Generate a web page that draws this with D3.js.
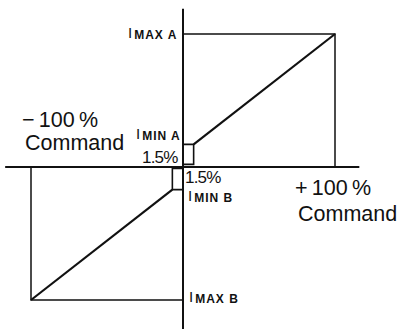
<!DOCTYPE html>
<html lang="en">

<head>
    <meta charset="UTF-8">
    <title>Command vs Current</title>
    <script src="https://d3js.org/d3.v7.min.js"></script>
    <style>
        body {
            margin: 0;
            background: #fff;
        }

        .big {
            font-family: "Liberation Sans", Arial, sans-serif;
            font-size: 21.5px;
            fill: #111;
        }

        .pct {
            font-family: "Liberation Sans", Arial, sans-serif;
            font-size: 17px;
            letter-spacing: -0.8px;
            fill: #111;
        }

        .sym {
            font-family: "Liberation Sans", Arial, sans-serif;
            font-size: 15px;
            fill: #111;
        }

        .sub {
            font-size: 12px;
            font-weight: bold;
            letter-spacing: 1px;
        }
    </style>
</head>

<body>
    <script>
        // command (%) on x, current on y, Imax A = +100, Imax B = -100
        const commandRange = [-100, 100];
        const currentRange = [-100, 100];
        const iMaxA = 100, iMaxB = -100;
        const iMinA = 17, iMinB = -17;
        const deadband = 7;       // the 1.5% band, drawn wider than scale
        const boxBaseA = 2, boxBaseB = -1;
        const axisX = [-117, 116];
        const axisY = [-122, 119];

        const width = 404;
        const height = 329;

        const x = d3.scaleLinear().domain(commandRange).range([31, 335]);
        const y = d3.scaleLinear().domain(currentRange).range([300, 34]);

        const svg = d3.select("body")
            .append("svg")
            .attr("width", width)
            .attr("height", height);

        const line = d3.line().x(d => x(d[0])).y(d => y(d[1]));

        function path(pts, w) {
            svg.append("path")
                .attr("d", line(pts))
                .attr("fill", "none")
                .attr("stroke", "#111")
                .attr("stroke-width", w)
                .attr("stroke-linejoin", "miter");
        }

        // axes
        path([[axisX[0], 0], [axisX[1], 0]], 1.8);
        path([[0, axisY[0]], [0, axisY[1]]], 2);

        // guide lines to the max points
        path([[0, iMaxA], [commandRange[1], iMaxA], [commandRange[1], 0]], 1.5);
        path([[0, iMaxB], [commandRange[0], iMaxB], [commandRange[0], 0]], 1.5);

        // deadband boxes
        path([[0, iMinA], [deadband, iMinA], [deadband, boxBaseA], [0, boxBaseA]], 1.6);
        path([[0, boxBaseB], [-deadband, boxBaseB], [-deadband, iMinB], [0, iMinB]], 1.6);

        // transfer lines
        path([[deadband, iMinA], [commandRange[1], iMaxA]], 2.2);
        path([[-deadband, iMinB], [commandRange[0], iMaxB]], 2.2);

        // labels
        function currentLabel(sub, xp, yp) {
            const t = svg.append("text")
                .attr("class", "sym")
                .attr("x", xp)
                .attr("y", yp);
            t.append("tspan").attr("dy", -1).text("I");
            t.append("tspan").attr("class", "sub").attr("dx", 2).attr("dy", 1).text(sub);
        }

        currentLabel("MAX A", x(0) - 55, y(iMaxA) + 5);
        currentLabel("MIN A", x(0) - 47, y(iMinA) - 4);
        currentLabel("MIN B", x(0) + 5, y(iMinB) + 12);
        currentLabel("MAX B", x(0) + 6, y(iMaxB) + 3);

        svg.append("text").attr("class", "pct")
            .attr("x", x(0) - 41).attr("y", y(0) - 4).text("1.5%");
        svg.append("text").attr("class", "pct")
            .attr("x", x(0) + 2).attr("y", y(0) + 16).text("1.5%");

        svg.append("text").attr("class", "big")
            .attr("x", x(commandRange[0]) - 9).attr("y", 127).text("\u2212\u2009100\u2009%");
        svg.append("text").attr("class", "big")
            .attr("x", x(commandRange[0]) - 6).attr("y", 150).text("Command");

        svg.append("text").attr("class", "big")
            .attr("x", x(commandRange[1]) - 40).attr("y", 195).text("+\u2009100\u2009%");
        svg.append("text").attr("class", "big")
            .attr("x", x(commandRange[1]) - 37).attr("y", 221).text("Command");
    </script>
</body>

</html>
